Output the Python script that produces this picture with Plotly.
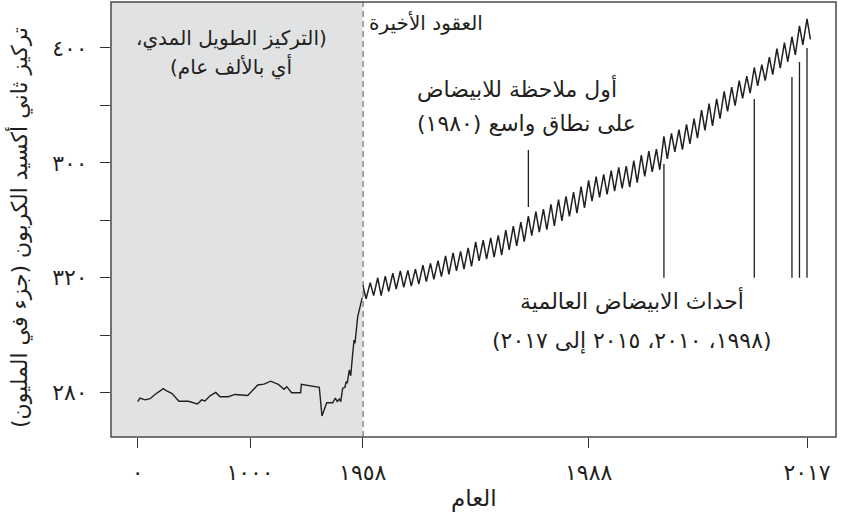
import plotly.graph_objects as go

# ---------------- data ----------------
# long-term (ice-core) CO2 series, left panel
ice_years = [0, 20, 65, 110, 154, 199, 228, 258, 303, 368, 451, 531, 570, 599, 644, 695, 733, 807, 866, 980,
             1069, 1125, 1184, 1252, 1303, 1327, 1371, 1451, 1457, 1617, 1641, 1683, 1736, 1760, 1777, 1795,
             1808, 1825, 1846, 1855, 1866, 1884, 1897, 1908, 1926, 1935, 1944, 1959, 1980, 1988, 2000]
ice_ppm = [276.9, 278.1, 277.5, 277.9, 279.4, 280.7, 281.4, 280.6, 279.8, 277.0, 277.0, 276.1, 277.5, 277.1,
           278.9, 280.1, 278.6, 278.6, 279.4, 279.0, 282.7, 283.0, 284.0, 282.9, 281.2, 282.1, 280.0, 280.0,
           282.9, 281.9, 271.9, 276.5, 276.5, 278.1, 276.9, 277.8, 276.9, 281.5, 281.9, 283.8, 283.3, 287.9,
           285.9, 290.8, 298.3, 297.2, 301.8, 306.5, 309.9, 311.1, 313.2]

# recent decades: yearly seasonal peak and trough (ppm), right panel
recent_years = list(range(1958, 2018))
peak_ppm = [317.5, 318.3, 320.0, 320.6, 321.6, 322.4, 322.6, 323.0, 324.4, 325.0,
            326.0, 327.6, 328.7, 329.2, 330.4, 332.5, 333.1, 333.9, 334.8, 336.6,
            338.0, 339.4, 341.5, 343.0, 343.9, 345.6, 347.2, 348.3, 349.8, 351.7,
            353.9, 355.2, 356.0, 357.3, 358.4, 358.9, 360.8, 362.7, 364.1, 364.8,
            369.2, 370.3, 371.6, 373.4, 375.4, 378.4, 380.6, 382.3, 384.9, 386.4,
            388.6, 390.2, 393.2, 394.2, 396.8, 399.8, 401.9, 403.9, 407.7, 410.1]
trough_ppm = [312.7, 313.8, 313.8, 315.2, 316.1, 316.7, 317.1, 317.8, 318.7, 319.5,
              320.4, 321.2, 322.4, 323.0, 324.0, 325.9, 326.5, 327.2, 327.9, 329.7,
              331.1, 332.6, 334.7, 335.9, 336.8, 338.1, 339.8, 341.4, 342.5, 344.3,
              346.7, 348.0, 349.0, 350.2, 351.1, 351.6, 353.1, 355.3, 356.9, 357.6,
              361.4, 363.8, 364.6, 366.6, 368.6, 371.3, 372.9, 375.4, 377.9, 379.9,
              382.5, 384.3, 386.8, 388.6, 390.7, 393.0, 395.2, 397.6, 401.1, 403.0]

# bleaching markers: year, top of line (ppm), bottom of line (ppm)
first_bleach_year = [1980]
first_bleach_top = [364.5]
first_bleach_bottom = [344.6]
global_bleach_years = [1998, 2010, 2015, 2016, 2017]
global_bleach_top = [359.6, 382.2, 389.9, 395.1, 400.0]
global_bleach_bottom = [320.0, 320.0, 320.0, 320.0, 320.0]

# axis ticks
x1_tickvals = [0, 1000]
x1_ticktext = ["٠", "١٠٠٠"]
x2_tickvals = [1958, 1988, 2017]
x2_ticktext = ["١٩٥٨", "١٩٨٨", "٢٠١٧"]
y_tickvals = [280, 300, 320, 340, 360, 380, 400]
y_ticktext = ["٢٨٠", "", "٣٢٠", "", "٣٠٠", "", "٤٠٠"]

# ---------------- layout helpers ----------------
W, H = 842, 522
ML, MR, MT, MB = 111, 6, 2, 85
PW, PH = W - ML - MR, H - MT - MB
SPLIT = (362.7 - ML) / PW
FONT = "DejaVu Sans"
INK = "#231f20"
RLE, PDF = "\u202b", "\u202c"


def rtl(s):
    return RLE + s + PDF


def px(x):
    return (x - ML) / PW


def py(y):
    return (H - MB - y) / PH


# seasonal cycle placement inside each year
PEAK_OFFSET, TROUGH_OFFSET = 0.0, 0.45
rx, ry = [], []
for yr, pk, tr in zip(recent_years, peak_ppm, trough_ppm):
    rx += [yr + PEAK_OFFSET, yr + TROUGH_OFFSET]
    ry += [pk, tr]

fig = go.Figure()
fig.add_trace(go.Scatter(x=ice_years, y=ice_ppm, mode="lines", xaxis="x", yaxis="y",
                         line=dict(color=INK, width=1.4), hoverinfo="skip", showlegend=False))
fig.add_trace(go.Scatter(x=rx, y=ry, mode="lines", xaxis="x2", yaxis="y",
                         line=dict(color=INK, width=1.5), hoverinfo="skip", showlegend=False))

shapes = [
    dict(type="rect", xref="paper", yref="paper", x0=0, x1=SPLIT, y0=0, y1=1,
         fillcolor="#e1e2e4", line=dict(width=0), layer="below"),
    dict(type="line", xref="x2", yref="paper", x0=1958, x1=1958, y0=0, y1=1,
         line=dict(color=INK, width=1.5, dash="6px,4px")),
    dict(type="rect", xref="paper", yref="paper", x0=0, x1=1, y0=0, y1=1,
         line=dict(color="#4a4a4a", width=1.5), layer="above"),
]
for yr, t, b in zip(first_bleach_year + global_bleach_years,
                    first_bleach_top + global_bleach_top,
                    first_bleach_bottom + global_bleach_bottom):
    shapes.append(dict(type="line", xref="x2", yref="y", x0=yr, x1=yr, y0=b, y1=t,
                       line=dict(color=INK, width=1.3)))


def ann(text, x, y, xanchor="center", size=21, angle=0):
    return dict(text=text, x=px(x), y=py(y), xref="paper", yref="paper", showarrow=False,
                xanchor=xanchor, yanchor="middle", textangle=angle,
                font=dict(family=FONT, size=size, color=INK))


annotations = [
    ann(rtl("(التركيز الطويل المدي،"), 231, 39, size=20),
    ann(rtl("أي بالألف عام)"), 231, 67, size=20),
    ann(rtl("العقود الأخيرة"), 485, 23, xanchor="right", size=20),
    ann(rtl("أول ملاحظة للابيضاض"), 415, 89, xanchor="left", size=22),
    ann(rtl("على نطاق واسع (١٩٨٠)"), 415, 123, xanchor="left", size=22),
    ann(rtl("أحداث الابيضاض العالمية"), 632, 301, size=22),
    ann(rtl("(١٩٩٨، ٢٠١٠، ٢٠١٥ إلى ٢٠١٧)"), 632, 341, size=22),
    ann(rtl("العام"), 474, 498, size=23),
    ann(rtl("تركيز ثاني أكسيد الكربون (جزء في المليون)"), 19, 228, size=22, angle=-90),
]

axis_common = dict(showgrid=False, zeroline=False, showline=False, ticks="outside", ticklen=10,
                   tickwidth=1.3, tickcolor="#333333",
                   tickfont=dict(family=FONT, size=22, color=INK))

fig.update_layout(
    width=W, height=H, margin=dict(l=ML, r=MR, t=MT, b=MB),
    paper_bgcolor="white", plot_bgcolor="white",
    xaxis=dict(domain=[0, SPLIT], range=[-237.8, 2003.6], anchor="y",
               tickvals=x1_tickvals, ticktext=x1_ticktext, ticklabelstandoff=6, **axis_common),
    xaxis2=dict(domain=[SPLIT, 1], range=[1958.0, 2020.85], anchor="y",
                tickvals=x2_tickvals, ticktext=x2_ticktext, ticklabelstandoff=6, **axis_common),
    yaxis=dict(range=[264.58, 416.0], anchor="x",
               tickvals=y_tickvals, ticktext=y_ticktext, ticklabelstandoff=8, **axis_common),
    shapes=shapes, annotations=annotations, showlegend=False,
)

fig.write_html("out.html", config={"displayModeBar": False},
               post_script="document.body.style.margin='0';document.body.style.overflow='hidden';")
